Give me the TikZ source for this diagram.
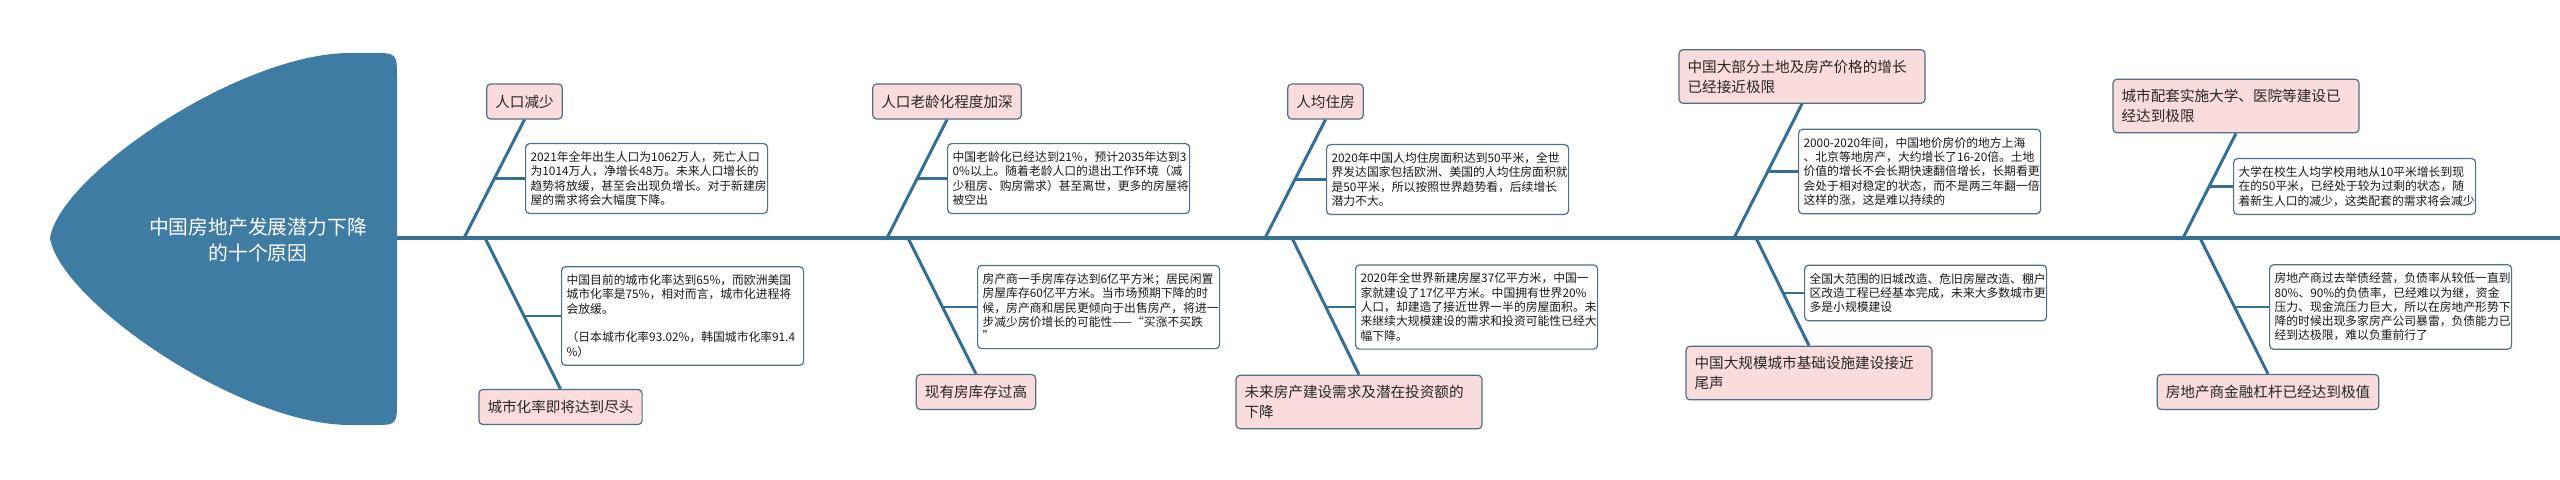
\documentclass[tikz,border=0pt]{standalone}
\usepackage{fontspec}
\newfontfamily\cjk{Noto Sans CJK SC}
\definecolor{headblue}{HTML}{3E7CA3}
\definecolor{boneblue}{HTML}{356F95}
\definecolor{labelpink}{HTML}{FBDCDC}
\definecolor{edgegray}{HTML}{4F6F8A}
\begin{document}
\begin{tikzpicture}[x=0.5pt, y=-0.5pt,
    spina/.style={draw=boneblue, line width=2pt},
    ramo/.style={draw=boneblue, line width=1.5pt},
    etichetta/.style={draw=edgegray, line width=.6pt, fill=labelpink, rounded corners=2pt,
      font=\cjk\fontsize{7.3pt}{10pt}\selectfont, text=black!85, align=left,
      inner xsep=4.3pt, inner ysep=5pt, minimum height=17.5pt},
    dettaglio/.style={draw=edgegray, line width=.6pt, fill=white, rounded corners=2pt,
      font=\cjk\fontsize{5.9pt}{7.15pt}\selectfont, text=black!90, align=left,
      inner xsep=2.5pt, inner ysep=4pt, text width=116pt, anchor=west}]

  \useasboundingbox (0,0) rectangle (2560,479);

  % testa del pesce
  \fill[headblue] (50,238) .. controls (60,175) and (240,53) .. (350,53) -- (372,53)
    .. controls (397,53) .. (397,78) -- (397,400)
    .. controls (397,425) .. (372,425) -- (350,425)
    .. controls (240,425) and (60,301) .. (50,238) -- cycle;
  \node[font=\cjk\fontsize{9.9pt}{13pt}\selectfont, text=white, align=center] (titolo) at (258,240)
    {中国房地产发展潜力下降\\的十个原因};

  % spina dorsale
  \coordinate (testa) at (397,238);
  \coordinate (coda) at (2560,238);
  \draw[spina] (testa) -- (coda);
  \foreach \i/\x in {1/464,2/485,3/887,4/908,5/1265,6/1292,7/1734,8/1756,9/2183,10/2200}
    { \coordinate (s\i) at (\x,238); }

  % cause
  \node[etichetta] (l1) at (524.5,101.5) {人口减少};
  \node[etichetta] (l2) at (560.5,407) {城市化率即将达到尽头};
  \node[etichetta] (l3) at (947,101.5) {人口老龄化程度加深};
  \node[etichetta] (l4) at (976,392) {现有房库存过高};
  \node[etichetta] (l5) at (1325.5,101.5) {人均住房};
  \node[etichetta, text width=114.4pt] (l6) at (1359,402) {未来房产建设需求及潜在投资额的\\下降};
  \node[etichetta, text width=114.4pt] (l7) at (1802,76.5) {中国大部分土地及房产价格的增长\\已经接近极限};
  \node[etichetta, text width=114.4pt] (l8) at (1809,373) {中国大规模城市基础设施建设接近\\尾声};
  \node[etichetta, text width=114.4pt] (l9) at (2236,106) {城市配套实施大学、医院等建设已\\经达到极限};
  \node[etichetta] (l10) at (2268,392) {房地产商金融杠杆已经达到极值};

  % spiegazioni
  \node[dettaglio] (d1) at (525,178.5) {2021年全年出生人口为1062万人，死亡人口\\为1014万人，净增长48万。未来人口增长的\\趋势将放缓，甚至会出现负增长。对于新建房\\屋的需求将会大幅度下降。};
  \node[dettaglio] (d2) at (561,316) {中国目前的城市化率达到65\%，而欧洲美国\\城市化率是75\%，相对而言，城市化进程将\\会放缓。\\[7.15pt]（日本城市化率93.02\%，韩国城市化率91.4\\\%）};
  \node[dettaglio] (d3) at (947,178.5) {中国老龄化已经达到21\%，预计2035年达到3\\0\%以上。随着老龄人口的退出工作环境（减\\少租房、购房需求）甚至离世，更多的房屋将\\被空出};
  \node[dettaglio] (d4) at (977,307) {房产商一手房库存达到6亿平方米；居民闲置\\房屋库存60亿平方米。当市场预期下降的时\\候，房产商和居民更倾向于出售房产，将进一\\步减少房价增长的可能性——“买涨不买跌\\”};
  \node[dettaglio] (d5) at (1326,179.5) {2020年中国人均住房面积达到50平米，全世\\界发达国家包括欧洲、美国的人均住房面积就\\是50平米，所以按照世界趋势看，后续增长\\潜力不大。};
  \node[dettaglio] (d6) at (1355,307) {2020年全世界新建房屋37亿平方米，中国一\\家就建设了17亿平方米。中国拥有世界20\%\\人口，却建造了接近世界一半的房屋面积。未\\来继续大规模建设的需求和投资可能性已经大\\幅下降。};
  \node[dettaglio] (d7) at (1798,171.5) {2000-2020年间，中国地价房价的地方上海\\、北京等地房产，大约增长了16-20倍。土地\\价值的增长不会长期快速翻倍增长，长期看更\\会处于相对稳定的状态，而不是两三年翻一倍\\这样的涨，这是难以持续的};
  \node[dettaglio] (d8) at (1804,293) {全国大范围的旧城改造、危旧房屋改造、棚户\\区改造工程已经基本完成，未来大多数城市更\\多是小规模建设};
  \node[dettaglio] (d9) at (2233,186.5) {大学在校生人均学校用地从10平米增长到现\\在的50平米，已经处于较为过剩的状态，随\\着新生人口的减少，这类配套的需求将会减少};
  \node[dettaglio] (d10) at (2269,307) {房地产商过去举债经营，负债率从较低一直到\\80\%、90\%的负债率，已经难以为继，资金\\压力、现金流压力巨大，所以在房地产形势下\\降的时候出现多家房产公司暴雷，负债能力已\\经到达极限，难以负重前行了};

  % lische
  \foreach \i/\a/\jx in {1/south/494,3/south/917,5/south/1295,7/south/1768,9/south/2209,
                         2/north/524,4/north/942,6/north/1326,8/north/1783,10/north/2234}
    { \draw[ramo] (s\i) -- (l\i.\a);
      \coordinate (j\i) at (\jx,0 |- d\i.west);
      \draw[ramo, line width=1.3pt] (j\i) -- (d\i.west); }
\end{tikzpicture}
\end{document}
